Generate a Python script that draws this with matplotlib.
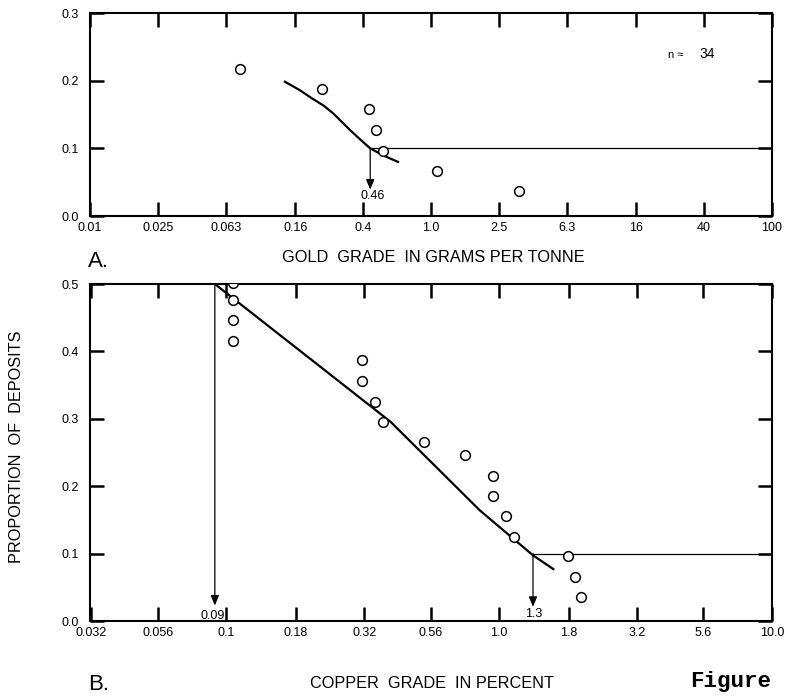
import numpy as np
import matplotlib
matplotlib.use("Agg")
import matplotlib.pyplot as plt

plt.rcParams['font.family'] = ['Liberation Sans', 'DejaVu Sans']

# ---------------- data ----------------
gold_ticks = [0.01, 0.025, 0.063, 0.16, 0.4, 1.0, 2.5, 6.3, 16, 40, 100]
gold_tick_labels = ["0.01", "0.025", "0.063", "0.16", "0.4", "1.0", "2.5", "6.3", "16", "40", "100"]
gold_pts_x = [0.076, 0.23, 0.433, 0.475, 0.522, 1.09, 3.3]
gold_pts_y = [0.217, 0.188, 0.158, 0.127, 0.096, 0.0665, 0.037]
gold_curve_x = [0.139, 0.17, 0.20, 0.235, 0.266, 0.30, 0.335, 0.385, 0.44, 0.53, 0.64]
gold_curve_y = [0.1985, 0.186, 0.174, 0.163, 0.152, 0.139, 0.127, 0.113, 0.1, 0.089, 0.080]
gold_cut_x = 0.44
gold_cut_label = "0.46"
gold_n = "34"

cu_ticks = [0.032, 0.056, 0.1, 0.18, 0.32, 0.56, 1.0, 1.8, 3.2, 5.6, 10.0]
cu_tick_labels = ["0.032", "0.056", "0.1", "0.18", "0.32", "0.56", "1.0", "1.8", "3.2", "5.6", "10.0"]
cu_pts_x = [0.106, 0.106, 0.106, 0.106, 0.315, 0.315, 0.352, 0.376,
            0.531, 0.747, 0.946, 0.946, 1.056, 1.13, 1.78, 1.90, 1.99]
cu_pts_y = [0.501, 0.476, 0.447, 0.415, 0.387, 0.356, 0.325, 0.2955,
            0.265, 0.246, 0.215, 0.186, 0.1555, 0.125, 0.096, 0.065, 0.036]
cu_curve_x = [0.0907, 0.40, 0.85, 1.33, 1.58]
cu_curve_y = [0.5, 0.2955, 0.164, 0.0975, 0.077]
cu_low_x = 0.0907
cu_low_label = "0.09"
cu_high_x = 1.33
cu_high_label = "1.3"

# ---------------- figure ----------------
fig = plt.figure(figsize=(7.86, 6.97), dpi=100)
axA = fig.add_axes([0.1145, 0.6901, 0.8677, 0.2912])
axB = fig.add_axes([0.1145, 0.1090, 0.8677, 0.4835])

def style(ax, xticks, xlabels, xlim, yticks, ylim):
    ax.set_xscale('log')
    ax.set_xlim(*xlim)
    ax.set_ylim(*ylim)
    ax.set_xticks(xticks)
    ax.set_xticklabels(xlabels)
    ax.minorticks_off()
    ax.set_yticks(yticks)
    ax.set_yticklabels([f"{v:.1f}" for v in yticks])
    ax.tick_params(axis='both', which='major', direction='in', length=10, width=1.8,
                   top=True, right=True, labelsize=9, colors='black')
    ax.tick_params(axis='x', pad=4.5)
    ax.tick_params(axis='y', pad=8)
    for s in ax.spines.values():
        s.set_linewidth(1.5)

style(axA, gold_ticks, gold_tick_labels, (0.01, 100), [0.0, 0.1, 0.2, 0.3], (0, 0.3))
style(axB, cu_ticks, cu_tick_labels, (10 ** -1.5, 10.0), [0.0, 0.1, 0.2, 0.3, 0.4, 0.5], (0, 0.5))

mk = dict(marker='o', linestyle='none', markersize=7, markerfacecolor='white',
          markeredgecolor='black', markeredgewidth=1.1, zorder=3)
arrow_style = dict(arrowstyle='-|>,head_length=0.6,head_width=0.25', color='black', lw=0.9,
                   shrinkA=0, shrinkB=0)

# Panel A
axA.plot(gold_curve_x, gold_curve_y, color='black', lw=1.6, zorder=2)
axA.plot(gold_pts_x, gold_pts_y, **mk)
axA.plot([gold_cut_x, 100], [0.1, 0.1], color='black', lw=0.9, zorder=2)
axA.annotate("", xy=(gold_cut_x, 0.039), xytext=(gold_cut_x, 0.1), arrowprops=arrow_style)
axA.text(gold_cut_x * 1.03, 0.029, gold_cut_label, ha='center', va='center', fontsize=9)
axA.text(0.8475, 0.776, "n \u2248", transform=axA.transAxes, fontsize=8, ha='left', va='baseline')
axA.text(0.893, 0.776, gold_n, transform=axA.transAxes, fontsize=10, ha='left', va='baseline')

# Panel B
axB.plot(cu_curve_x, cu_curve_y, color='black', lw=1.6, zorder=2)
axB.plot(cu_pts_x, cu_pts_y, **mk)
axB.plot([cu_high_x, 10.0], [0.1, 0.1], color='black', lw=0.9, zorder=2)
axB.annotate("", xy=(cu_low_x, 0.023), xytext=(cu_low_x, 0.5), arrowprops=arrow_style)
axB.annotate("", xy=(cu_high_x, 0.021), xytext=(cu_high_x, 0.1), arrowprops=arrow_style)
axB.text(cu_low_x * 0.985, 0.0075, cu_low_label, ha='center', va='center', fontsize=9)
axB.text(cu_high_x * 1.01, 0.011, cu_high_label, ha='center', va='center', fontsize=9)

# labels
fig.text(0.112, 0.6165, "A.", fontsize=16, ha='left', va='baseline')
fig.text(0.551, 0.631, "GOLD  GRADE  IN GRAMS PER TONNE", fontsize=11.7, ha='center', va='center')
fig.text(0.112, 0.010, "B.", fontsize=16, ha='left', va='baseline')
fig.text(0.550, 0.020, "COPPER  GRADE  IN PERCENT", fontsize=11.7, ha='center', va='center')
fig.text(0.0216, 0.3587, "PROPORTION  OF  DEPOSITS", fontsize=11.7, rotation=90, ha='center', va='center')
fig.text(0.878, 0.022, "Figure", fontsize=16.2, fontweight='bold', family=['Liberation Mono', 'DejaVu Sans Mono'],
         ha='left', va='center')

fig.savefig("out.png", dpi=100)
